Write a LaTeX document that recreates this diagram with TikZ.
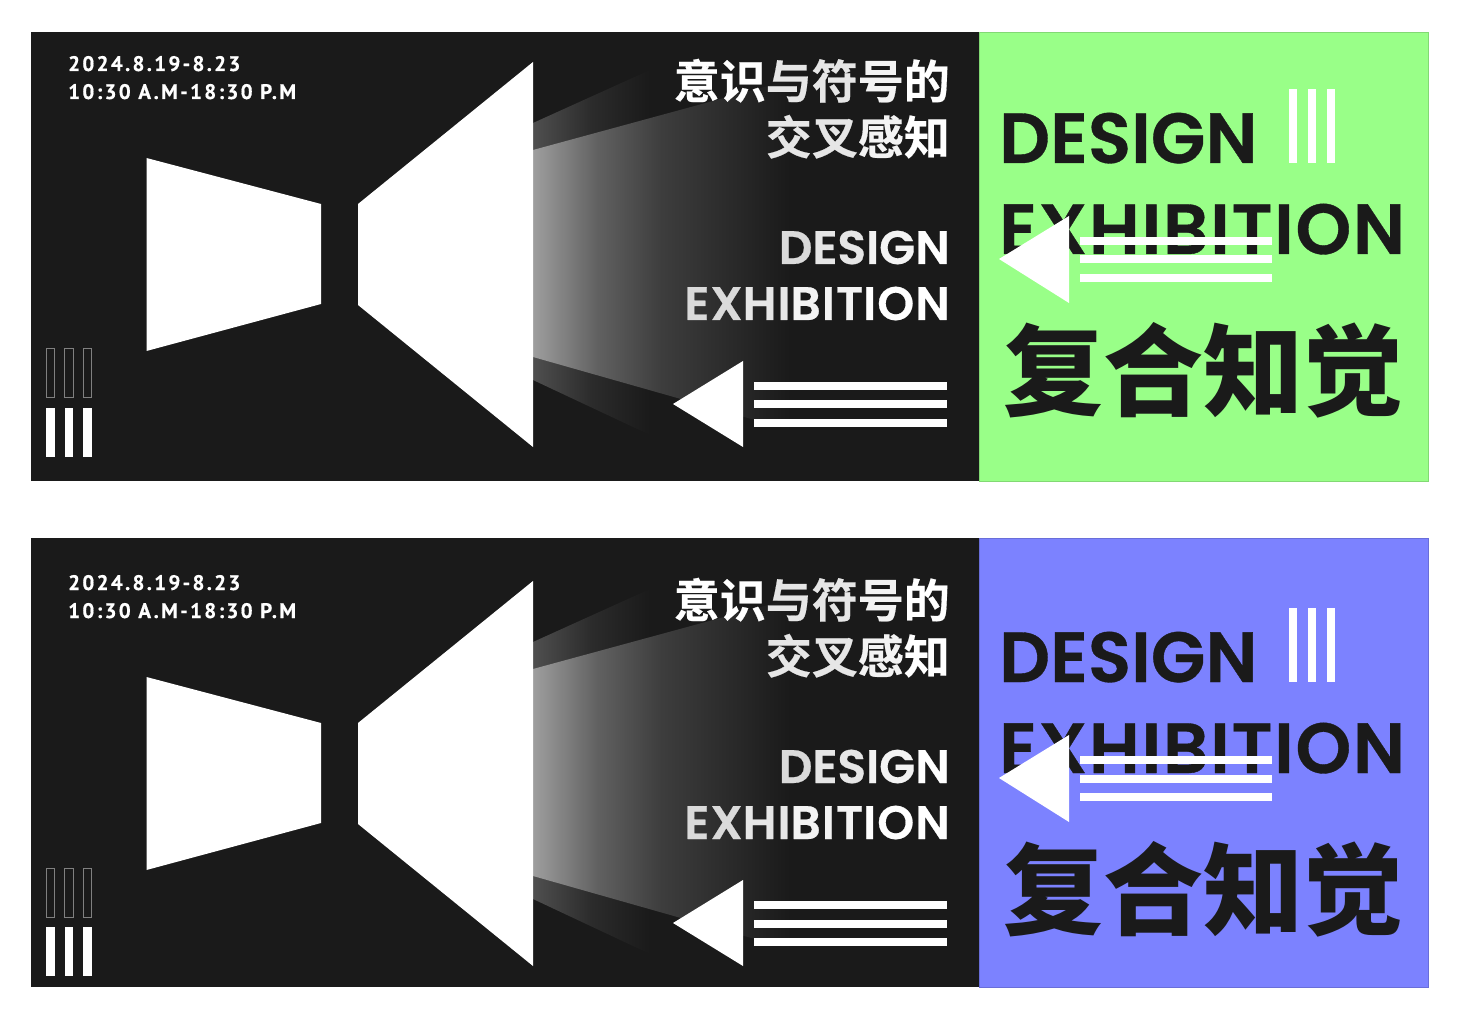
\documentclass[tikz,border=0pt]{standalone}
\usepackage{fontspec}
\setmainfont{Poppins}
\newfontfamily\latinfont[FakeBold=0.5]{Poppins SemiBold}
\newfontfamily\latinwide[LetterSpace=2.3,FakeBold=0.5]{Poppins SemiBold}
\newfontfamily\datefont[LetterSpace=11,FakeBold=0.6]{PT Sans Bold}
\newfontfamily\cjkfont[FakeBold=0.4]{Noto Sans CJK SC Bold}
\newfontfamily\cjkblack{Noto Sans CJK SC Black}
\definecolor{posterdark}{HTML}{1A1A1A}
\definecolor{posterlime}{HTML}{99FF88}
\definecolor{posterviolet}{HTML}{7C82FF}
\definecolor{fadeone}{HTML}{DADADA}
\definecolor{fadetwo}{HTML}{E6E6E6}
\definecolor{fadethree}{HTML}{F3F3F3}
\pgfdeclarehorizontalshading{innerbeam}{100bp}{
    color(0bp)=(white!62!black); color(25bp)=(white!62!black); color(37.5bp)=(white!38!black);
    color(50bp)=(white!24!black); color(62.5bp)=(white!17!black); color(75bp)=(posterdark); color(100bp)=(posterdark)}
\pgfdeclarehorizontalshading{outerbeam}{100bp}{
    color(0bp)=(white!31!black); color(25bp)=(white!31!black); color(50bp)=(white!17!black);
    color(75bp)=(posterdark); color(100bp)=(posterdark)}
\tikzset{
    stripe/.style={fill=white},
    hollowbar/.style={draw=white!50!black,line width=1pt},
    titletext/.style={inner sep=0pt,text=white,font=\cjkfont\fontsize{46}{46}\selectfont},
    smalllatin/.style={inner sep=0pt,text=white,font=\latinfont\fontsize{47}{47}\selectfont},
    smallwide/.style={smalllatin,font=\latinwide\fontsize{47}{47}\selectfont},
    biglatin/.style={inner sep=0pt,text=posterdark,font=\latinfont\fontsize{71}{71}\selectfont},
    bigwide/.style={biglatin,font=\latinwide\fontsize{71}{71}\selectfont},
    datetext/.style={inner sep=0pt,text=white,font=\datefont\fontsize{21}{21}\selectfont}
}
\begin{document}
\begin{tikzpicture}[x=1pt,y=-1pt]
    \useasboundingbox (0,0) rectangle (1460,1016);
    \fill[white] (0,0) rectangle (1460,1016);

    \foreach \panel/\frameshift/\contentshift/\accent in {a/0/0/posterlime,b/506/519/posterviolet} {
        % the two grounds
        \fill[posterdark] (31,32+\frameshift) rectangle (979,481+\frameshift);
        \filldraw[fill=\accent,draw=\accent!85!black,line width=0.6pt] (979,32+\frameshift) rectangle (1428,481+\frameshift);

        \begin{scope}[shift={(0,\contentshift)}]
            % light beam behind the wedge
            \shade[shading=outerbeam] (533,123) -- (650,70) -- (650,435) -- (533,380) -- cycle;
            \shade[shading=innerbeam] (533,150) -- (790,80) -- (790,430) -- (533,357) -- cycle;

            \fill[white] (146.5,158) -- (321,204) -- (321,304) -- (146.5,351) -- cycle;
            \fill[white] (533,62) -- (533,447) -- (358,305) -- (358,204) -- cycle;

            \node[datetext,anchor=base west] (date\panel) at (68,71) {2024.8.19-8.23};
            \node[datetext,anchor=base west] (time\panel) at (68,99) {10:30 A.M-18:30 P.M};

            \foreach \x in {46,64.5,83} {
                \draw[hollowbar] (\x,349) rectangle (\x+8.5,398);
                \fill[stripe] (\x,408) rectangle (\x+8.5,457);
            }

            \node[titletext,anchor=base east] (titleone\panel) at (950,98.5) {意识\textcolor{fadetwo}{与符}\textcolor{fadethree}{号}的};
            \node[titletext,anchor=base east] (titletwo\panel) at (950,154.5) {\textcolor{fadetwo}{交叉}\textcolor{fadethree}{感}知};
            \node[smalllatin,anchor=base east] (design\panel) at (950,264) {\textcolor{fadeone}{D}\textcolor{fadetwo}{ES}\textcolor{fadethree}{IG}N};
            \node[smallwide,anchor=base east] (exhibition\panel) at (950,320) {\textcolor{fadeone}{EX}\textcolor{fadetwo}{HI}\textcolor{fadethree}{BIT}ION};

            \fill[white] (673,404) -- (743,361) -- (743,447) -- cycle;
            \foreach \y in {382,400.5,419}
                \fill[stripe] (754,\y) rectangle (947,\y+8);

            % right part
            \node[biglatin,anchor=base west] (bigdesign\panel) at (999,163) {DESIGN};
            \node[bigwide,anchor=base west] (bigexhibition\panel) at (999,254) {EXHIBITION};
            \node[inner sep=0pt,anchor=base west,text=posterdark,font=\cjkblack\fontsize{100}{100}\selectfont] (bigtitle\panel) at (1003,408) {复合知觉};

            \foreach \x in {1289,1308,1327}
                \fill[stripe] (\x,89) rectangle (\x+8,163);
            \fill[white] (999,259) -- (1069,216) -- (1069,303) -- cycle;
            \foreach \y in {237,255.5,274}
                \fill[stripe] (1080,\y) rectangle (1272,\y+8);
        \end{scope}
    }
\end{tikzpicture}
\end{document}
